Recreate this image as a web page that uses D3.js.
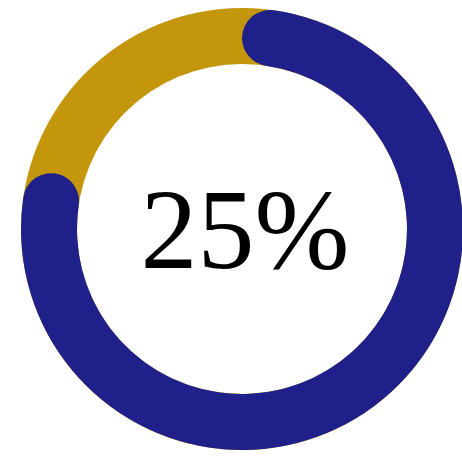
<!DOCTYPE html>
<html>
<head>
<meta charset="utf-8">
<script src="https://cdn.jsdelivr.net/npm/d3@7"></script>
<style>
  html, body { margin: 0; padding: 0; background: #fff; }
  svg { display: block; }
</style>
</head>
<body>
<script>
// chart data
const labels = ['remaining', 'done'];
const percent = [25, 75];
const colors = ['#c4960b', '#1f2089'];

const w = 462,
  h = 461;
const cx = 242,
  cy = 229;
const outerR = 221,
  innerR = 165;

const svg = d3.select('body').append('svg').attr('width', w).attr('height', h);
const g = svg.append('g').attr('transform', `translate(${cx}, ${cy})`);

// background track (gold)
const track = d3.arc().innerRadius(innerR).outerRadius(outerR).startAngle(0).endAngle(2 * Math.PI);
g.append('path').attr('d', track()).attr('fill', colors[0]);

// progress arc, round ends stick out past the 75% mark
const capR = (outerR - innerR) / 2;
const capAngle = capR / ((outerR + innerR) / 2);
const angle = d3.scaleLinear().domain([0, 100]).range([0, 2 * Math.PI]);
const progress = d3
  .arc()
  .innerRadius(innerR)
  .outerRadius(outerR)
  .cornerRadius(capR)
  .startAngle(0)
  .endAngle(angle(percent[1]) + 2 * capAngle);
g.append('path').attr('d', progress()).attr('fill', colors[1]);

g.append('text')
  .attr('x', 3)
  .attr('y', 39)
  .attr('text-anchor', 'middle')
  .style('font-family', '"Liberation Serif", "Times New Roman", serif')
  .style('font-size', '114px')
  .attr('fill', '#000')
  .text(percent[0] + '%');
</script>
</body>
</html>
